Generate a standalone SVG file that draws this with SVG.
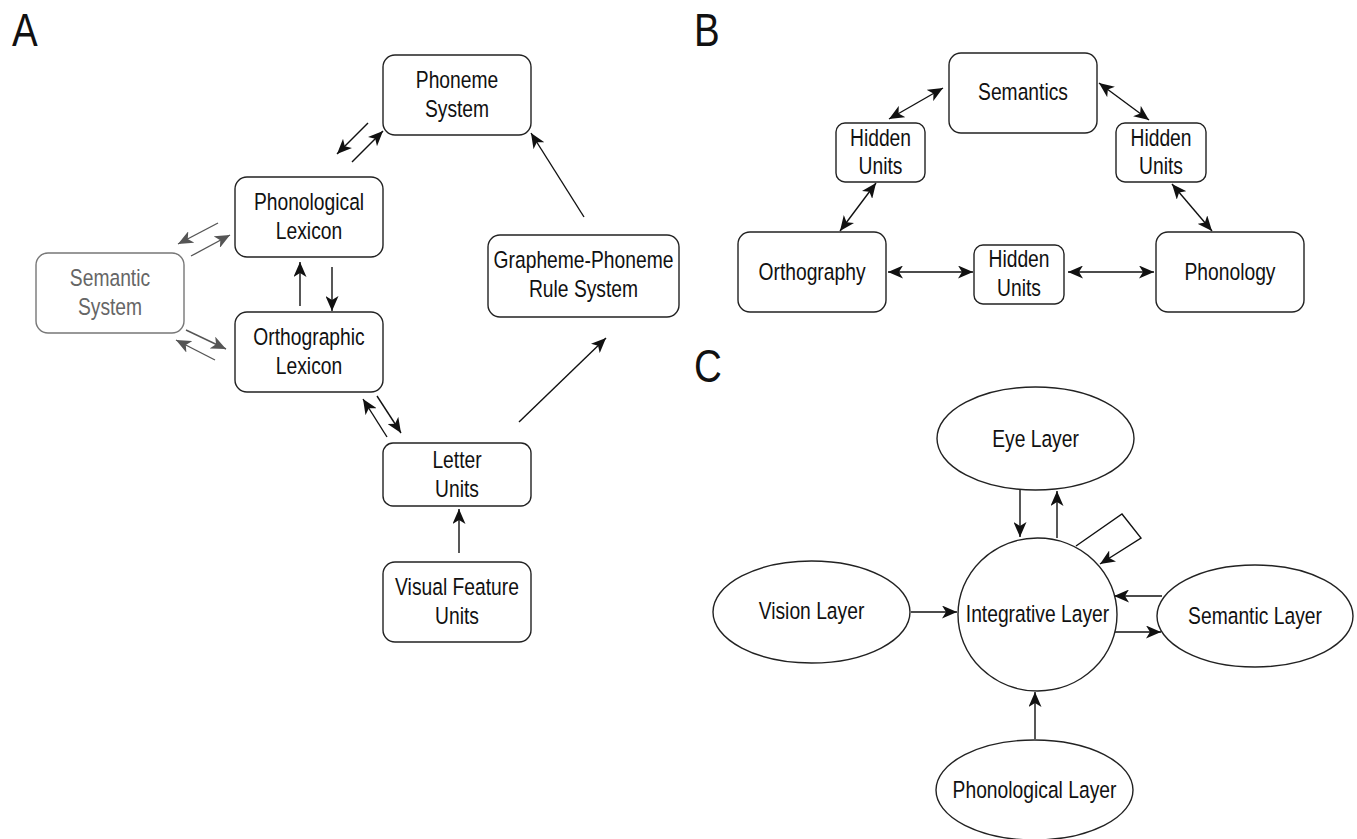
<svg xmlns="http://www.w3.org/2000/svg" width="1357" height="839" viewBox="0 0 1357 839">
<style>
.t{font-family:"Liberation Sans",Arial,sans-serif;font-size:23.5px;fill:#111;text-anchor:middle}
.g .t{fill:#666}
.lbl{font-family:"Liberation Sans",Arial,sans-serif;font-size:47px;fill:#111}
.box{fill:#fff;stroke:#222;stroke-width:1.4}
.g .box{stroke:#777}
.c{fill:none;stroke:#111;stroke-width:1.4}
.c.e{marker-end:url(#ah)}
.c.b{marker-start:url(#ah);marker-end:url(#ah)}
.c.gr{stroke:#555;marker-end:url(#ahg)}
</style>
<defs>
<marker id="ah" viewBox="0 0 15 13" refX="15" refY="6.5" markerWidth="15" markerHeight="13" markerUnits="userSpaceOnUse" orient="auto-start-reverse"><path d="M0,0 L15,6.5 L0,13 L4,6.5 Z" fill="#111"/></marker>
<marker id="ahg" viewBox="0 0 15 13" refX="15" refY="6.5" markerWidth="15" markerHeight="13" markerUnits="userSpaceOnUse" orient="auto"><path d="M0,0 L15,6.5 L0,13 L4,6.5 Z" fill="#555"/></marker>
</defs>
<rect width="1357" height="839" fill="#fff"/>
<text class="lbl" transform="translate(12 46) scale(0.82 1)">A</text>
<text class="lbl" transform="translate(694 46) scale(0.82 1)">B</text>
<text class="lbl" transform="translate(694 382) scale(0.82 1)">C</text>

<g id="connectors">
<path class="c e" d="M368,123 L337,154"/>
<path class="c e" d="M352,162 L383,131"/>
<path class="c gr" d="M218,223 L178,244"/>
<path class="c gr" d="M191,256 L230,235"/>
<path class="c gr" d="M186,330 L226,349"/>
<path class="c gr" d="M215,360 L176,340"/>
<path class="c e" d="M300,306 L300,262"/>
<path class="c e" d="M332,267 L332,311"/>
<path class="c e" d="M387,437 L363,399"/>
<path class="c e" d="M377,396 L401,433"/>
<path class="c e" d="M519,422 L606,338"/>
<path class="c e" d="M584,217 L531,133"/>
<path class="c e" d="M459,553 L459,509"/>

<path class="c b" d="M943,88 L889,119"/>
<path class="c b" d="M1099,83 L1149,120"/>
<path class="c b" d="M876,183 L840,231"/>
<path class="c b" d="M1172,184 L1212,231"/>
<path class="c b" d="M888,272 L973,272"/>
<path class="c b" d="M1068,272 L1154,272"/>

<path class="c e" d="M911,612 L957,612"/>
<path class="c e" d="M1020,490 L1020,537"/>
<path class="c e" d="M1057,538 L1057,491"/>
<path class="c e" d="M1076,546 L1122,514 L1141,538 L1100,564"/>
<path class="c e" d="M1162,596 L1114,596"/>
<path class="c e" d="M1115,632 L1161,632"/>
<path class="c e" d="M1035,739 L1035,692"/>
</g>

<g id="phoneme-system"><rect class="box" x="383" y="55" width="148" height="80" rx="12"/><text class="t" transform="translate(457 88) scale(0.82 1)">Phoneme</text><text class="t" transform="translate(457 117) scale(0.82 1)">System</text></g>
<g id="phonological-lexicon"><rect class="box" x="235" y="177" width="148" height="80" rx="12"/><text class="t" transform="translate(309 210) scale(0.82 1)">Phonological</text><text class="t" transform="translate(309 239) scale(0.82 1)">Lexicon</text></g>
<g id="semantic-system" class="g"><rect class="box" x="36" y="253" width="148" height="80" rx="12"/><text class="t" transform="translate(110 286) scale(0.82 1)">Semantic</text><text class="t" transform="translate(110 315) scale(0.82 1)">System</text></g>
<g id="orthographic-lexicon"><rect class="box" x="235" y="312" width="148" height="80" rx="12"/><text class="t" transform="translate(309 345) scale(0.82 1)">Orthographic</text><text class="t" transform="translate(309 374) scale(0.82 1)">Lexicon</text></g>
<g id="grapheme-phoneme"><rect class="box" x="488" y="235" width="191" height="82" rx="12"/><text class="t" transform="translate(583.5 268) scale(0.82 1)">Grapheme-Phoneme</text><text class="t" transform="translate(583.5 297) scale(0.82 1)">Rule System</text></g>
<g id="letter-units"><rect class="box" x="383" y="443" width="148" height="63" rx="10"/><text class="t" transform="translate(457 468) scale(0.82 1)">Letter</text><text class="t" transform="translate(457 497) scale(0.82 1)">Units</text></g>
<g id="visual-feature-units"><rect class="box" x="383" y="562" width="148" height="80" rx="12"/><text class="t" transform="translate(457 595) scale(0.82 1)">Visual Feature</text><text class="t" transform="translate(457 624) scale(0.82 1)">Units</text></g>

<g id="semantics"><rect class="box" x="949" y="53" width="148" height="80" rx="12"/><text class="t" transform="translate(1023 100) scale(0.82 1)">Semantics</text></g>
<g id="hidden-left"><rect class="box" x="836" y="123" width="89" height="59" rx="9"/><text class="t" transform="translate(880.5 146) scale(0.82 1)">Hidden</text><text class="t" transform="translate(880.5 174) scale(0.82 1)">Units</text></g>
<g id="hidden-right"><rect class="box" x="1116" y="123" width="90" height="59" rx="9"/><text class="t" transform="translate(1161 146) scale(0.82 1)">Hidden</text><text class="t" transform="translate(1161 174) scale(0.82 1)">Units</text></g>
<g id="orthography"><rect class="box" x="738" y="232" width="148" height="80" rx="12"/><text class="t" transform="translate(812 280) scale(0.82 1)">Orthography</text></g>
<g id="hidden-bottom"><rect class="box" x="974" y="245" width="90" height="59" rx="9"/><text class="t" transform="translate(1019 267) scale(0.82 1)">Hidden</text><text class="t" transform="translate(1019 296) scale(0.82 1)">Units</text></g>
<g id="phonology"><rect class="box" x="1156" y="232" width="148" height="80" rx="12"/><text class="t" transform="translate(1230 280) scale(0.82 1)">Phonology</text></g>

<g id="eye-layer"><ellipse class="box" cx="1035.5" cy="438.5" rx="98.5" ry="51.5"/><text class="t" transform="translate(1035.5 447) scale(0.82 1)">Eye Layer</text></g>
<g id="vision-layer"><ellipse class="box" cx="811.5" cy="612" rx="98.5" ry="51"/><text class="t" transform="translate(811.5 619) scale(0.82 1)">Vision Layer</text></g>
<g id="integrative-layer"><ellipse class="box" cx="1037.5" cy="614.5" rx="79.5" ry="76.5"/><text class="t" transform="translate(1037.5 622) scale(0.82 1)">Integrative Layer</text></g>
<g id="semantic-layer"><ellipse class="box" cx="1255" cy="616" rx="98" ry="51"/><text class="t" transform="translate(1255 624) scale(0.82 1)">Semantic Layer</text></g>
<g id="phonological-layer"><ellipse class="box" cx="1034.5" cy="790" rx="98.5" ry="50"/><text class="t" transform="translate(1034.5 798) scale(0.82 1)">Phonological Layer</text></g>
</svg>
